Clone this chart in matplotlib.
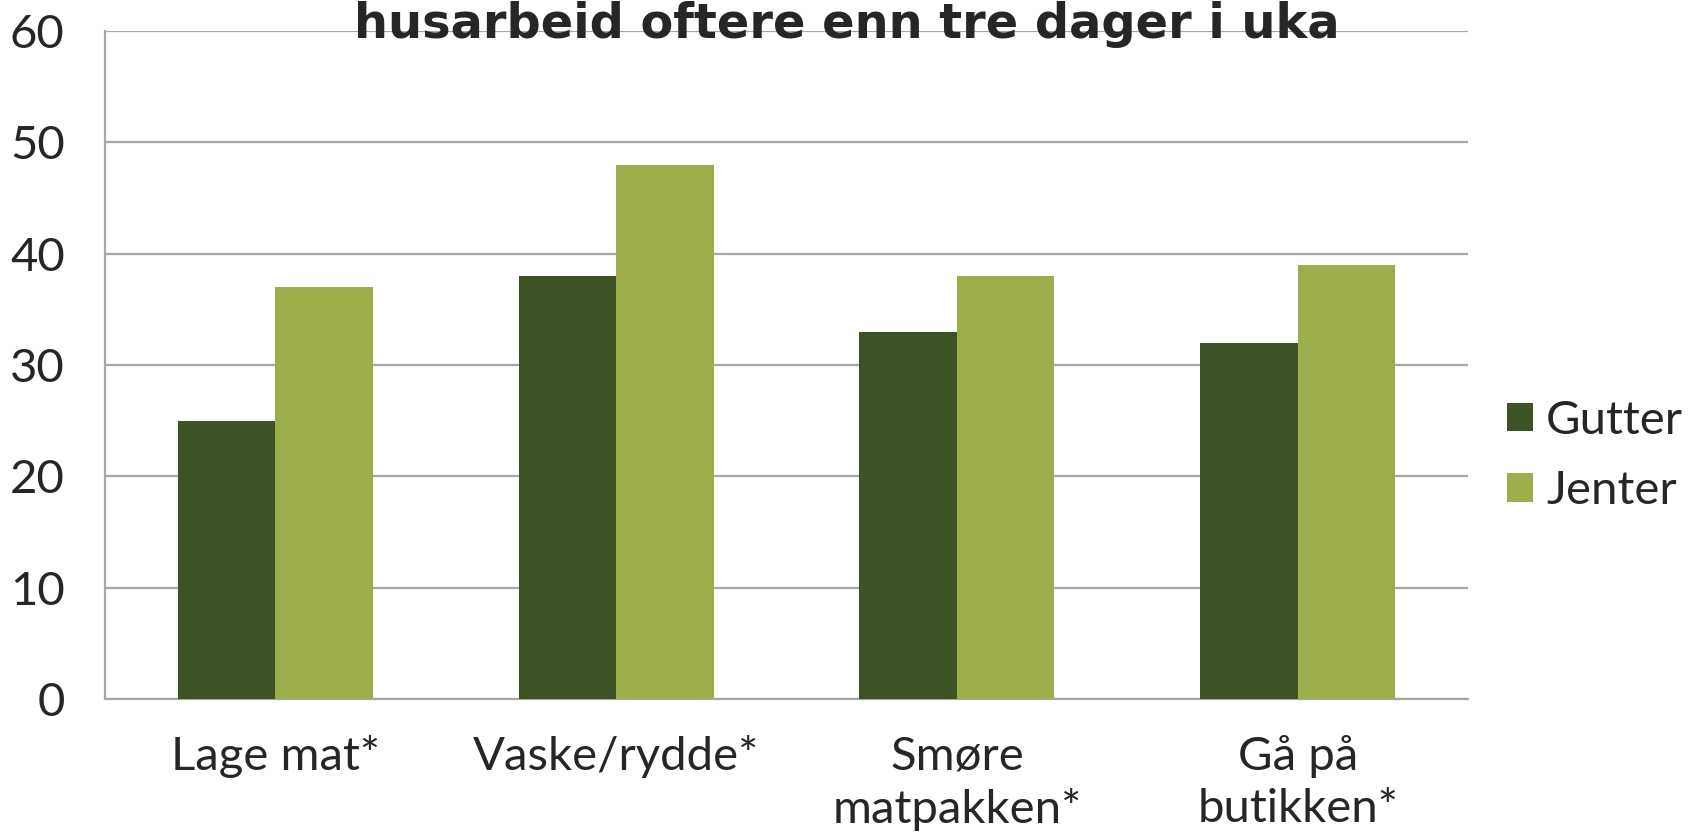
import matplotlib
matplotlib.use("Agg")
import matplotlib.pyplot as plt
import numpy as np

# data
categories = ["Lage mat*", "Vaske/rydde*", "Smøre\nmatpakken*", "Gå på\nbutikken*"]
gutter = [25, 38, 33, 32]
jenter = [37, 48, 38, 39]
yticks = [0, 10, 20, 30, 40, 50, 60]
title = "husarbeid oftere enn tre dager i uka"

dark = "#3E5323"
light = "#9BAE4B"
txt = "#262626"
grid = "#A6A6A6"

plt.rcParams['font.family'] = ['Lato', 'DejaVu Sans']

fig = plt.figure(figsize=(17, 8.39), dpi=100)
ax = fig.add_axes([105/1700, 1 - 699/839, (1468-105)/1700, (699-31)/839])

x = np.arange(len(categories))
w = 0.286
ax.bar(x - w/2, gutter, w, color=dark, label="Gutter", zorder=3)
ax.bar(x + w/2, jenter, w, color=light, label="Jenter", zorder=3)

ax.set_xlim(-0.5, len(categories) - 0.5)
ax.set_ylim(0, 60)
ax.set_yticks(yticks)
ax.yaxis.grid(True, color=grid, lw=1.6, zorder=0)
ax.set_xticks(x)
ax.set_xticklabels(categories, linespacing=1.3)
ax.tick_params(axis='x', length=0, pad=26, labelsize=34, labelcolor=txt)
ax.tick_params(axis='y', length=0, pad=29, labelsize=34, labelcolor=txt)

for s in ["top", "right"]:
    ax.spines[s].set_visible(False)
for s in ["left", "bottom"]:
    ax.spines[s].set_color(grid)
    ax.spines[s].set_linewidth(1.6)

# title is partly cut by the top edge, as in the reference
fig.text(847/1700, 1 - 38/839, title, ha="center", va="baseline",
         fontsize=34.5, fontweight="bold", color=txt, family="DejaVu Sans")

fig.legend(*ax.get_legend_handles_labels(), loc="center left",
           bbox_to_anchor=(1507/1700, 1 - 456/839), frameon=False,
           borderpad=0, borderaxespad=0,
           fontsize=34, handlelength=0.55, handleheight=0.55, handletextpad=0.28,
           labelspacing=0.6, labelcolor=txt)

fig.savefig("out.png", dpi=100)
